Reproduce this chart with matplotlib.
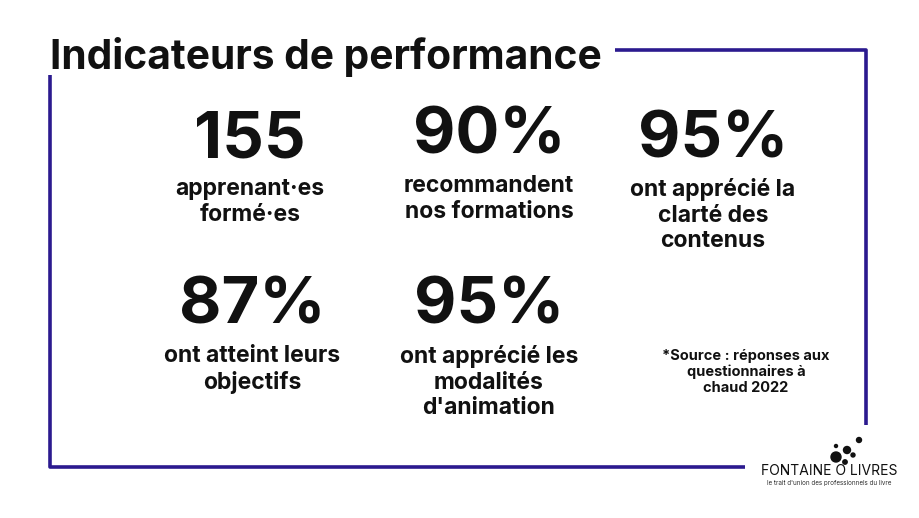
import matplotlib
matplotlib.use("Agg")
import matplotlib.pyplot as plt

title = "Indicateurs de performance"
values = ["155", "90%", "95%", "87%", "95%"]
labels = ["apprenant·es\nformé·es", "recommandent\nnos formations",
          "ont apprécié la\nclarté des\ncontenus", "ont atteint leurs\nobjectifs",
          "ont apprécié les\nmodalités\nd'animation"]
source = "*Source : réponses aux\nquestionnaires à\nchaud 2022"

centers = [(250, 140), (489, 137), (713, 140), (252, 307), (489, 307)]
FONT = "Inter"
NAVY = "#2b1a8f"

fig = plt.figure(figsize=(9.2, 5.18), dpi=100)
ax = fig.add_axes([0, 0, 1, 1])
ax.set_xlim(0, 920); ax.set_ylim(518, 0); ax.axis("off")

lw = 2.6
ax.plot([615, 866, 866], [50, 50, 425], color=NAVY, lw=lw, solid_capstyle="butt")
ax.plot([50, 50, 745], [75, 467, 467], color=NAVY, lw=lw, solid_capstyle="butt")

ax.text(50, 57, title, fontsize=29.3, fontweight="bold", family=FONT, va="center", ha="left", color="#111")

for (x, y), v, l in zip(centers, values, labels):
    ax.text(x, y, v, fontsize=47, fontweight="bold", family=FONT, ha="center", va="center", color="#111")
    ax.text(x, y + 38, l, fontsize=16.5, fontweight="bold", family=FONT, ha="center", va="top",
            color="#111", linespacing=1.22)

ax.text(746, 372, source, fontsize=10.5, fontweight="bold", family=FONT, ha="center", va="center",
        color="#111", linespacing=1.15)

# logo
for (cx, cy, r) in [(836, 457, 5), (847, 450, 3.5), (859, 440, 2.5), (845, 462, 2.2), (853, 455, 2), (836, 446, 1.5)]:
    ax.add_patch(plt.Circle((cx, cy), r, color="#111"))
ax.text(829, 471, "FONTAINE O LIVRES", fontsize=10, family=FONT, ha="center", va="center", color="#111")
ax.text(829, 483, "le trait d'union des professionnels du livre", fontsize=4.5, family=FONT,
        ha="center", va="center", color="#333")

fig.savefig("out.png", dpi=100)
